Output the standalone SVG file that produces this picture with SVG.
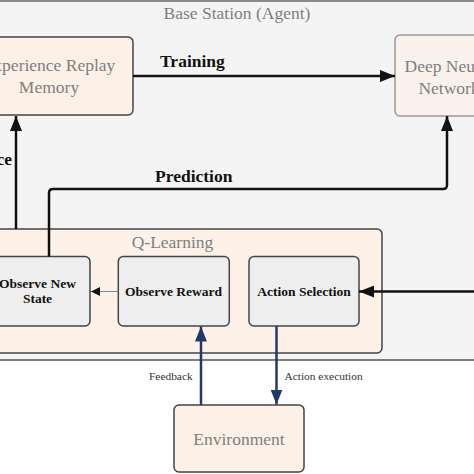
<svg xmlns="http://www.w3.org/2000/svg" width="474" height="474" viewBox="0 0 474 474">
<style>
.t{font-family:"Liberation Serif","Times New Roman",serif;font-size:17.5px;fill:#7f7f7f;text-anchor:middle}
.b{font-family:"Liberation Serif","Times New Roman",serif;font-size:17.5px;font-weight:bold;fill:#111}
.s{font-family:"Liberation Serif","Times New Roman",serif;font-size:13.5px;font-weight:bold;fill:#111;text-anchor:middle}
.l{font-family:"Liberation Serif","Times New Roman",serif;font-size:11.4px;fill:#333}
.peach{fill:#fdf0e6;stroke:#444;stroke-width:1.5}
.grey{fill:#eeeeee;stroke:#444;stroke-width:1.5}
.k{fill:none;stroke:#111;stroke-width:2.5}
.bl{fill:none;stroke:#1f3a68;stroke-width:2.5}
</style>
<defs>
<marker id="ak" markerUnits="userSpaceOnUse" markerWidth="16" markerHeight="12" refX="15" refY="6" orient="auto"><path d="M0,0 L15,6 L0,12 Z" fill="#111"/></marker>
<marker id="ab" markerUnits="userSpaceOnUse" markerWidth="16" markerHeight="12" refX="15" refY="6" orient="auto"><path d="M0,0 L15,6 L0,12 Z" fill="#1f3a68"/></marker>
<marker id="as" markerUnits="userSpaceOnUse" markerWidth="10" markerHeight="9" refX="9" refY="4.5" orient="auto"><path d="M0,0 L9,4.5 L0,9 Z" fill="#111"/></marker>
</defs>
<rect width="474" height="474" fill="#ffffff"/>
<g id="base-station">
<rect x="-10" y="1" width="494" height="359" fill="#f4f4f4" stroke="#555" stroke-width="1.5"/>
<rect x="0" y="0" width="474" height="2" fill="#8a8a8a"/>
<text class="t" x="237" y="19">Base Station (Agent)</text>
</g>
<g id="experience-replay">
<rect class="peach" x="-35" y="37" width="168" height="78" rx="5"/>
<text class="t" x="49" y="71">Experience Replay</text>
<text class="t" x="49" y="93">Memory</text>
</g>
<g id="dnn">
<rect x="395" y="35" width="110" height="81" rx="5" fill="#f9f2ec" stroke="#999" stroke-width="1.5"/>
<text class="t" x="449" y="72">Deep Neural</text>
<text class="t" x="449" y="94">Network</text>
</g>
<g id="q-learning">
<rect class="peach" x="-10" y="229" width="392" height="124" rx="5" style="fill:#fdf1e8"/>
<text class="t" x="172.5" y="248">Q-Learning</text>
</g>
<g id="observe-new-state">
<rect class="grey" x="-15" y="256.5" width="105" height="69.5" rx="5"/>
<text class="s" x="37.5" y="288">Observe New</text>
<text class="s" x="37.5" y="303">State</text>
</g>
<g id="observe-reward">
<rect class="grey" x="118.3" y="256.5" width="111" height="69.5" rx="5"/>
<text class="s" x="173.5" y="295.5">Observe Reward</text>
</g>
<g id="action-selection">
<rect class="grey" x="249" y="256.5" width="110" height="69.5" rx="5"/>
<text class="s" x="304" y="295.5">Action Selection</text>
</g>
<g id="environment">
<rect class="peach" x="174" y="405" width="130" height="67" rx="5"/>
<text class="t" x="239" y="445">Environment</text>
</g>
<g id="connectors">
<path class="k" d="M133,76 H395" marker-end="url(#ak)"/>
<text class="b" x="160" y="67">Training</text>
<path class="k" d="M16,229 V116" marker-end="url(#ak)"/>
<text class="b" x="12" y="165" text-anchor="end">Experience</text>
<path class="k" d="M49,256.5 V193 Q49,189 53,189 H443 Q447,189 447,185 V116" marker-end="url(#ak)"/>
<text class="b" x="155" y="182">Prediction</text>
<path class="k" d="M480,291.5 H359" marker-end="url(#ak)"/>
<path d="M118.3,291.5 H91" fill="none" stroke="#888" stroke-width="1" marker-end="url(#as)"/>
<path class="bl" d="M201,405 V326.5" marker-end="url(#ab)"/>
<text class="l" x="149" y="380">Feedback</text>
<path class="bl" d="M276.5,326 V404.5" marker-end="url(#ab)"/>
<text class="l" x="284.5" y="380">Action execution</text>
</g>
</svg>
